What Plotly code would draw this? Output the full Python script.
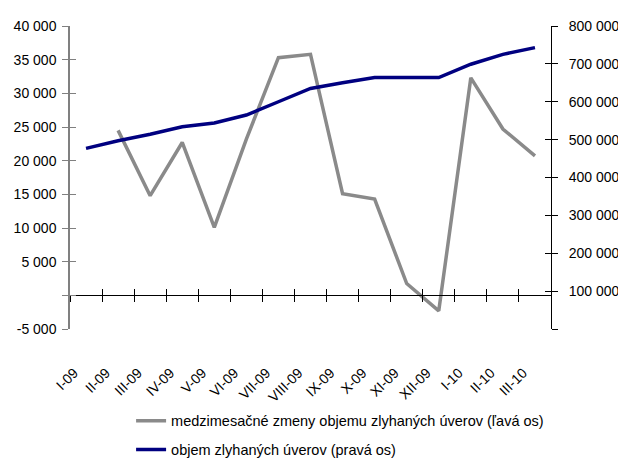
import plotly.graph_objects as go

months = ["I-09", "II-09", "III-09", "IV-09", "V-09", "VI-09", "VII-09", "VIII-09",
          "IX-09", "X-09", "XI-09", "XII-09", "I-10", "II-10", "III-10"]
monthly_change = [None, 24500, 14800, 22700, 10100, 23200, 35300, 35800,
                  15100, 14300, 1750, -2300, 32300, 24700, 20700]
npl_volume = [477000, 497000, 514000, 534000, 544000, 565000, 600000, 635000,
              650000, 664000, 664000, 664000, 699000, 725000, 743000]

left_ticks = [-5000, 0, 5000, 10000, 15000, 20000, 25000, 30000, 35000, 40000]
left_labels = ["-5 000", "", "5 000", "10 000", "15 000", "20 000", "25 000",
               "30 000", "35 000", "40 000"]
right_ticks = [0, 100000, 200000, 300000, 400000, 500000, 600000, 700000, 800000]
right_labels = ["", "100 000", "200 000", "300 000", "400 000", "500 000",
                "600 000", "700 000", "800 000"]

name_left = "medzimesačné zmeny objemu zlyhaných úverov (ľavá os)"
name_right = "objem zlyhaných úverov (pravá os)"

FONT = "Liberation Sans, Arial, sans-serif"
n = len(months)
idx = list(range(n))

fig = go.Figure()
fig.add_trace(go.Scatter(
    x=months, y=monthly_change, name=name_left, mode="lines",
    line=dict(color="#8a8a8a", width=3.5), yaxis="y", legendgroup="a"))
fig.add_trace(go.Scatter(
    x=months, y=npl_volume, name=name_right, mode="lines",
    line=dict(color="#000080", width=3.5), yaxis="y2", legendgroup="b"))

# invisible helper traces so that the tick-only overlay axes get drawn
helpers = [(idx, monthly_change, "x2", "y"), (idx, monthly_change, "x3", "y"),
           (months, monthly_change, "x", "y3"), (months, npl_volume, "x", "y4")]
for hx, hy, xa, ya in helpers:
    fig.add_trace(go.Scatter(x=hx, y=hy, xaxis=xa, yaxis=ya, mode="lines",
                             line=dict(width=0, color="rgba(0,0,0,0)"),
                             hoverinfo="skip", showlegend=False))

lrange = [left_ticks[0], left_ticks[-1]]
rrange = [right_ticks[0], right_ticks[-1]]
zero_pos = (0 - lrange[0]) / (lrange[1] - lrange[0])

common_x = dict(type="linear", range=[-0.5, n - 0.5], tickmode="linear",
                tick0=-0.5, dtick=1, ticklen=6, tickcolor="black",
                showticklabels=False, showgrid=False, zeroline=False,
                overlaying="x", anchor="free", position=zero_pos,
                automargin=False)

fig.update_layout(
    width=618, height=459,
    margin=dict(l=70, r=67, t=26, b=130, autoexpand=False),
    paper_bgcolor="white", plot_bgcolor="white",
    font=dict(family=FONT, size=14, color="black"),
    showlegend=True,
    legend=dict(x=0.127, y=-0.250, xanchor="left", yanchor="top",
                traceorder="grouped", tracegroupgap=7,
                font=dict(size=14.5), bgcolor="rgba(0,0,0,0)"),
    xaxis=dict(type="category", range=[-0.5, n - 0.5], showline=False,
               showgrid=False, zeroline=False, ticks="", tickangle=-45,
               ticklabelstandoff=32, ticklabelshift=-12,
               tickfont=dict(size=14), automargin=False),
    xaxis2=dict(ticks="outside", showline=True, linecolor="black", linewidth=1,
                **common_x),
    xaxis3=dict(ticks="inside", showline=False, **common_x),
    yaxis=dict(range=lrange, tickmode="array", tickvals=left_ticks,
               ticktext=left_labels, ticks="outside", ticklen=6,
               tickcolor="#808080", showline=True, linecolor="#808080",
               linewidth=1.5, showgrid=False, zeroline=False,
               ticklabelstandoff=3, automargin=False),
    yaxis3=dict(range=lrange, tickmode="array", tickvals=left_ticks,
                ticks="inside", ticklen=6, tickcolor="#808080",
                showticklabels=False, showline=False, showgrid=False,
                zeroline=False, overlaying="y", side="left", anchor="x",
                automargin=False),
    yaxis2=dict(range=rrange, tickmode="array", tickvals=right_ticks,
                ticktext=right_labels, ticks="outside", ticklen=6,
                tickcolor="black", showline=True, linecolor="black",
                linewidth=1, showgrid=False, zeroline=False,
                ticklabelstandoff=8,
                overlaying="y", side="right", anchor="x", automargin=False),
    yaxis4=dict(range=rrange, tickmode="array", tickvals=right_ticks,
                ticks="inside", ticklen=6, tickcolor="black",
                showticklabels=False, showline=False, showgrid=False,
                zeroline=False, overlaying="y", side="right", anchor="x",
                automargin=False),
)

fig.write_html("out.html",
               config={"displayModeBar": False},
               post_script="document.body.style.margin='0';"
                           "document.body.style.overflow='hidden';")
